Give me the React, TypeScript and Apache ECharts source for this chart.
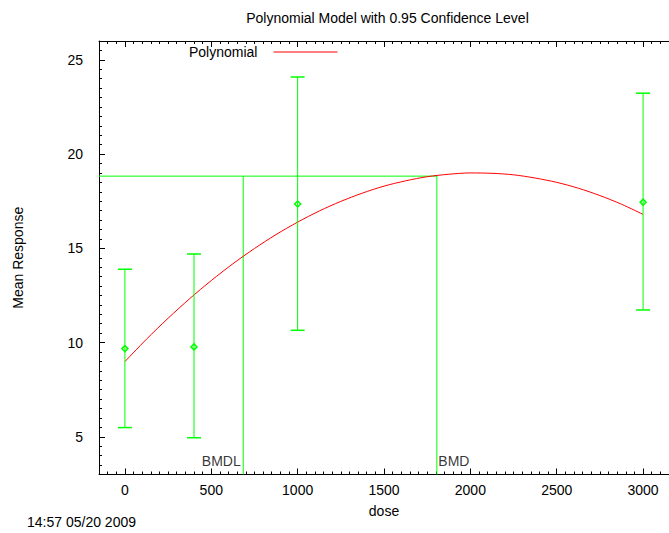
import React, { useEffect, useRef } from 'react';
import * as echarts from 'echarts';

const titleText = 'Polynomial Model with 0.95 Confidence Level';
const timestampText = '14:57 05/20 2009';
const xAxisName = 'dose';
const yAxisName = 'Mean Response';
const legendName = 'Polynomial';

const xMin = -150;
const xMax = 3150;
const yMin = 3;
const yMax = 26;
const xMajorTicks = [0, 500, 1000, 1500, 2000, 2500, 3000];
const yMajorTicks = [5, 10, 15, 20, 25];

// observed group means with 0.95 confidence limits
const doses = [0, 400, 1000, 3000];
const means = [9.68, 9.77, 17.35, 17.45];
const lowerBounds = [5.49, 4.95, 10.65, 11.73];
const upperBounds = [13.89, 14.7, 24.09, 23.23];

// fitted polynomial curve
const curveDoses = [0, 125, 250, 375, 500, 625, 750, 875, 1000, 1125, 1250, 1375, 1500, 1625, 1750, 1875, 2000, 2125, 2250, 2375, 2500, 2625, 2750, 2875, 3000];
const curveValues = [8.99, 10.18, 11.29, 12.33, 13.29, 14.18, 14.99, 15.73, 16.39, 16.98, 17.49, 17.93, 18.3, 18.58, 18.8, 18.93, 19.0, 18.98, 18.9, 18.73, 18.5, 18.19, 17.8, 17.34, 16.8];

const bmdLevel = 18.83;
const bmd = 1806;
const bmdl = 685;

const FONT = "'Liberation Sans', Arial, Helvetica, sans-serif";
const GREEN = '#00ff00';
const RED = '#ff0000';

function range(a: number, b: number, step: number) {
  const out: number[] = [];
  for (let v = a; v <= b + 1e-9; v += step) out.push(Math.round(v * 1000) / 1000);
  return out;
}
const xMinorTicks = range(xMin, xMax, 50);
const yMinorTicks = range(yMin, yMax, 0.5);

export default function App() {
  const ref = useRef<HTMLDivElement>(null);
  useEffect(() => {
    if (!ref.current) return;
    const chart = echarts.init(ref.current, undefined, { renderer: 'svg' });
    const baseAxisLine = { show: true, onZero: false, lineStyle: { color: '#000', width: 1 } };
    const hiddenAxisLine = { show: true, onZero: false, lineStyle: { color: 'rgba(0,0,0,0)', width: 1 } };
    const xCommon = { type: 'value', min: xMin, max: xMax, splitLine: { show: false } };
    const yCommon = { type: 'value', min: yMin, max: yMax, splitLine: { show: false } };
    const tickLabelStyle = { fontSize: 14, color: '#000', fontFamily: FONT, formatter: (v: number) => String(v) };
    const gridRect = { left: 99, top: 41, width: 577, height: 433.5, containLabel: false };
    const option: any = {
      animation: false,
      backgroundColor: '#fff',
      textStyle: { fontFamily: FONT },
      grid: [gridRect, { ...gridRect }],
      legend: {
        show: true,
        data: [{ name: legendName, icon: 'rect' }],
        left: 189,
        top: 45,
        padding: 0,
        align: 'right',
        itemWidth: 64,
        itemHeight: 1.2,
        textStyle: { fontSize: 14, color: '#000', fontFamily: FONT, padding: [0, 11, 0, 0] },
      },
      graphic: [
        {
          type: 'text',
          x: 387.5,
          y: 18,
          style: { text: titleText, align: 'center', verticalAlign: 'middle', fontSize: 14, fontFamily: FONT, fill: '#000' },
        },
        {
          type: 'text',
          x: 27,
          y: 522,
          style: { text: timestampText, align: 'left', verticalAlign: 'middle', fontSize: 14, fontFamily: FONT, fill: '#000' },
        },
      ],
      xAxis: [
        {
          ...xCommon,
          gridIndex: 0,
          position: 'bottom',
          name: xAxisName,
          nameLocation: 'middle',
          nameGap: 29,
          nameTextStyle: { fontSize: 14, color: '#000', fontFamily: FONT },
          axisLine: baseAxisLine,
          axisTick: { show: true, inside: true, length: 6, customValues: xMajorTicks, lineStyle: { color: '#000' } },
          axisLabel: { show: true, customValues: xMajorTicks, margin: 8, ...tickLabelStyle },
        },
        {
          ...xCommon,
          gridIndex: 0,
          position: 'top',
          axisLine: baseAxisLine,
          axisTick: { show: true, inside: true, length: 6, customValues: xMajorTicks, lineStyle: { color: '#000' } },
          axisLabel: { show: false },
        },
        {
          ...xCommon,
          gridIndex: 1,
          position: 'bottom',
          axisLine: hiddenAxisLine,
          axisTick: { show: true, inside: true, length: 3, customValues: xMinorTicks, lineStyle: { color: '#000' } },
          axisLabel: { show: false },
        },
        {
          ...xCommon,
          gridIndex: 1,
          position: 'top',
          axisLine: hiddenAxisLine,
          axisTick: { show: true, inside: true, length: 3, customValues: xMinorTicks, lineStyle: { color: '#000' } },
          axisLabel: { show: false },
        },
      ],
      yAxis: [
        {
          ...yCommon,
          gridIndex: 0,
          position: 'left',
          name: yAxisName,
          nameLocation: 'middle',
          nameGap: 74,
          nameTextStyle: { fontSize: 14, color: '#000', fontFamily: FONT },
          axisLine: baseAxisLine,
          axisTick: { show: true, inside: true, length: 6, customValues: yMajorTicks, lineStyle: { color: '#000' } },
          axisLabel: { show: true, customValues: yMajorTicks, margin: 16, ...tickLabelStyle },
        },
        {
          ...yCommon,
          gridIndex: 1,
          position: 'left',
          axisLine: hiddenAxisLine,
          axisTick: { show: true, inside: true, length: 3, customValues: yMinorTicks, lineStyle: { color: '#000' } },
          axisLabel: { show: false },
        },
      ],
      series: [
        {
          name: legendName,
          type: 'line',
          xAxisIndex: 0,
          yAxisIndex: 0,
          data: curveDoses.map((d, i) => [d, curveValues[i]]),
          smooth: 0.3,
          symbol: 'none',
          lineStyle: { color: RED, width: 1 },
          itemStyle: { color: RED },
          z: 3,
        },
        {
          name: 'bmdLevelLine',
          type: 'line',
          xAxisIndex: 0,
          yAxisIndex: 0,
          data: [[xMin, bmdLevel], [bmd, bmdLevel]],
          symbol: 'none',
          lineStyle: { color: GREEN, width: 1 },
          z: 2,
        },
        {
          name: 'bmdlLine',
          type: 'line',
          xAxisIndex: 0,
          yAxisIndex: 0,
          data: [[bmdl, bmdLevel], [bmdl, yMin]],
          symbol: 'none',
          lineStyle: { color: GREEN, width: 1 },
          z: 2,
        },
        {
          name: 'bmdLine',
          type: 'line',
          xAxisIndex: 0,
          yAxisIndex: 0,
          data: [[bmd, bmdLevel], [bmd, yMin]],
          symbol: 'none',
          lineStyle: { color: GREEN, width: 1 },
          z: 2,
        },
        {
          name: 'bmdLabels',
          type: 'scatter',
          xAxisIndex: 0,
          yAxisIndex: 0,
          symbolSize: 1,
          itemStyle: { color: 'rgba(0,0,0,0)' },
          data: [
            {
              value: [bmdl, yMin],
              name: 'BMDL',
              label: { show: true, formatter: 'BMDL', position: 'left', distance: 2, offset: [0, -14], fontSize: 14, color: '#000', fontFamily: FONT },
            },
            {
              value: [bmd, yMin],
              name: 'BMD',
              label: { show: true, formatter: 'BMD', position: 'right', distance: 1, offset: [0, -14], fontSize: 14, color: '#000', fontFamily: FONT },
            },
          ],
          z: 4,
        },
        {
          name: 'errorBars',
          type: 'custom',
          xAxisIndex: 0,
          yAxisIndex: 0,
          data: doses.map((d, i) => [d, means[i], lowerBounds[i], upperBounds[i]]),
          encode: { x: 0, y: [1, 2, 3] },
          z: 4,
          renderItem: (params: any, api: any) => {
            const x = api.value(0);
            const pM = api.coord([x, api.value(1)]);
            const pLo = api.coord([x, api.value(2)]);
            const pHi = api.coord([x, api.value(3)]);
            const cap = 7;
            const d = 3;
            const style = { stroke: GREEN, lineWidth: 1, fill: null };
            const capStyle = { stroke: GREEN, lineWidth: 1.5, fill: null };
            return {
              type: 'group',
              children: [
                { type: 'line', shape: { x1: pLo[0], y1: pLo[1], x2: pHi[0], y2: pHi[1] }, style },
                { type: 'line', shape: { x1: pLo[0] - cap, y1: pLo[1], x2: pLo[0] + cap, y2: pLo[1] }, style: capStyle },
                { type: 'line', shape: { x1: pHi[0] - cap, y1: pHi[1], x2: pHi[0] + cap, y2: pHi[1] }, style: capStyle },
                {
                  type: 'polygon',
                  shape: { points: [[pM[0], pM[1] - d], [pM[0] + d, pM[1]], [pM[0], pM[1] + d], [pM[0] - d, pM[1]]] },
                  style: { stroke: GREEN, lineWidth: 1.5, fill: null },
                },
              ],
            };
          },
        },
      ],
    };
    chart.setOption(option);
    return () => chart.dispose();
  }, []);
  return (
    <div
      ref={ref}
      style={{ position: 'fixed', left: 0, top: 0, width: 669, height: 533, background: '#fff' }}
    />
  );
}
